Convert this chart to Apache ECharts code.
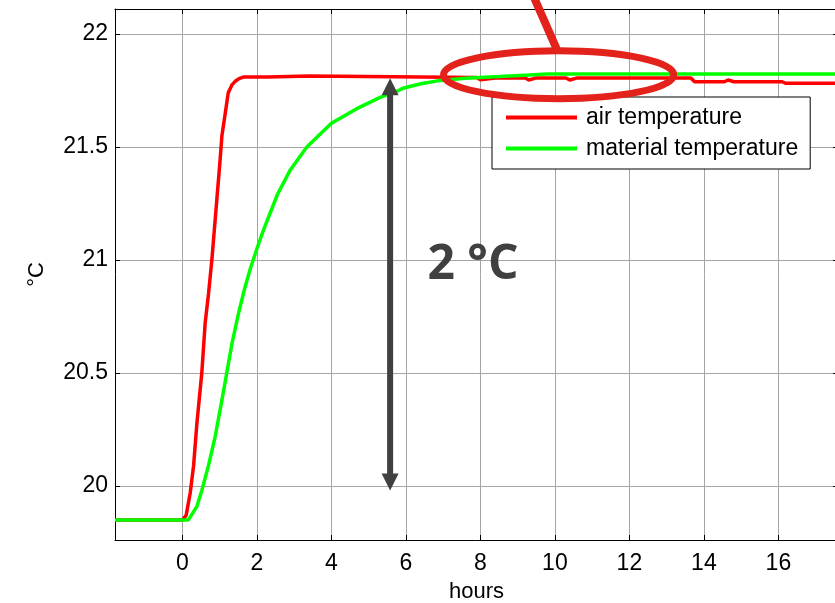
<!DOCTYPE html>
<html>
<head>
<meta charset="utf-8">
<script src="https://cdn.jsdelivr.net/npm/echarts@6.0.0/dist/echarts.min.js"></script>
<style>
  html, body { margin: 0; padding: 0; background: #fff; }
  #chart { width: 835px; height: 603px; }
</style>
</head>
<body>
<div id="chart"></div>
<script>
// Air temperature step response (hours, °C)
const airHours = [-1.81, 0, 0.10, 0.21, 0.30, 0.39, 0.52, 0.61, 0.70, 0.79, 0.88, 0.94, 1.01, 1.06, 1.15, 1.23, 1.33, 1.41, 1.52, 1.63,
  2.3, 2.35, 3.4, 3.45, 7.9, 8.0, 8.4, 9.2, 9.3, 9.5, 10.3, 10.4, 10.6, 13.65, 13.75, 14.55, 14.65, 14.8, 16.1, 16.2, 17.6];
const airTemp = [19.85, 19.85, 19.87, 19.97, 20.09, 20.28, 20.50, 20.72, 20.85, 21.00, 21.18, 21.30, 21.44, 21.55, 21.65, 21.74, 21.775, 21.79, 21.803, 21.81,
  21.81, 21.815, 21.815, 21.808, 21.808, 21.798, 21.806, 21.806, 21.797, 21.806, 21.806, 21.797, 21.806, 21.806, 21.789, 21.789, 21.797, 21.789, 21.789, 21.782, 21.782];

// Material temperature response (hours, °C)
const matHours = [-1.81, 0.16, 0.39, 0.52, 0.70, 0.88, 1.06, 1.19, 1.33, 1.50, 1.68, 1.82, 2.0, 2.17, 2.55, 2.9, 3.34, 4.0, 4.68,
  5.31, 5.80, 5.92, 6.4, 6.85, 7.6, 8.5, 9.2, 9.8, 17.6];
const matTemp = [19.85, 19.85, 19.91, 19.98, 20.09, 20.22, 20.38, 20.50, 20.63, 20.76, 20.88, 20.96, 21.05, 21.13, 21.29, 21.40, 21.50, 21.605, 21.67,
  21.72, 21.75, 21.76, 21.78, 21.793, 21.805, 21.812, 21.818, 21.823, 21.823];

const xTicks = [0, 2, 4, 6, 8, 10, 12, 14, 16];
const yTicks = [20, 20.5, 21, 21.5, 22];
const seriesNames = ['air temperature', 'material temperature'];

const X_MIN = -1.81, X_MAX = 17.6, Y_MIN = 19.761, Y_MAX = 22.111;
const FONT = "'Liberation Sans', Arial, sans-serif";
const GRID_COLOR = '#a4a4a4';
const MARK_COLOR = '#e3231b';
const NOTE_COLOR = '#404040';

const chart = echarts.init(document.getElementById('chart'), null, { renderer: 'canvas' });

function mainX(extra) {
  return Object.assign({
    type: 'value', min: X_MIN, max: X_MAX,
    axisLine: { show: true, onZero: false, lineStyle: { color: '#000', width: 1 } },
    axisTick: { show: true, inside: true, length: 5, customValues: xTicks, lineStyle: { color: '#000' } },
    splitLine: { show: false }
  }, extra);
}
function mainY(extra) {
  return Object.assign({
    type: 'value', min: Y_MIN, max: Y_MAX,
    axisLine: { show: true, onZero: false, lineStyle: { color: '#000', width: 1 } },
    axisTick: { show: true, inside: true, length: 5, customValues: yTicks, lineStyle: { color: '#000' } },
    splitLine: { show: false }
  }, extra);
}

chart.setOption({
  animation: false,
  backgroundColor: '#fff',
  grid: { left: 115, top: 9, width: 723, height: 531, containLabel: false, outerBoundsMode: 'none' },
  xAxis: [
    mainX({
      position: 'bottom',
      axisLabel: { show: true, customValues: xTicks, color: '#000', fontSize: 23, fontFamily: FONT, margin: 12 },
      splitLine: { show: true, lineStyle: { color: GRID_COLOR, width: 1 } },
      name: 'hours', nameLocation: 'middle', nameGap: 41,
      nameTextStyle: { color: '#000', fontSize: 22, fontFamily: FONT }
    }),
    mainX({ position: 'top', axisLabel: { show: false } })
  ],
  yAxis: [
    mainY({
      position: 'left',
      axisLabel: { show: true, customValues: yTicks, color: '#000', fontSize: 23, fontFamily: FONT, margin: 7 },
      splitLine: { show: true, lineStyle: { color: GRID_COLOR, width: 1 } },
      name: '°C', nameLocation: 'middle', nameGap: 67, nameRotate: 90,
      nameTextStyle: { color: '#000', fontSize: 22, fontFamily: FONT }
    }),
    mainY({ position: 'right', axisLabel: { show: false } })
  ],
  legend: {
    data: seriesNames,
    orient: 'vertical',
    left: 492, top: 97,
    backgroundColor: '#fff',
    borderColor: '#000', borderWidth: 1, borderRadius: 0,
    padding: [9, 12, 9, 14],
    itemGap: 8,
    itemWidth: 71, itemHeight: 4,
    icon: 'rect',
    selectedMode: false,
    textStyle: { color: '#000', fontSize: 23, fontFamily: FONT, lineHeight: 22, padding: [0, 0, 0, 4] }
  },
  series: [
    {
      name: seriesNames[0], type: 'line', xAxisIndex: 0, yAxisIndex: 0,
      data: airHours.map((h, i) => [h, airTemp[i]]),
      symbol: 'none', showSymbol: false,
      lineStyle: { color: '#ff0000', width: 3.5 },
      itemStyle: { color: '#ff0000' },
      z: 2
    },
    {
      name: seriesNames[1], type: 'line', xAxisIndex: 0, yAxisIndex: 0,
      data: matHours.map((h, i) => [h, matTemp[i]]),
      symbol: 'none', showSymbol: false,
      lineStyle: { color: '#00ff00', width: 3.5 },
      itemStyle: { color: '#00ff00' },
      z: 3
    }
  ]
});

// Annotations placed in data space and converted through the chart's axes
const toPx = (h, v) => chart.convertToPixel({ xAxisIndex: 0, yAxisIndex: 0 }, [h, v]);

const arrowAt = 5.576, arrowLow = 19.98, arrowHigh = 21.805;
const [ax, aTop] = toPx(arrowAt, arrowHigh);
const aBot = toPx(arrowAt, arrowLow)[1];
const hw = 8.5, hh = 17, sw = 3;
const arrowPts = [
  [ax, aTop], [ax + hw, aTop + hh], [ax + sw, aTop + hh], [ax + sw, aBot - hh], [ax + hw, aBot - hh],
  [ax, aBot], [ax - hw, aBot - hh], [ax - sw, aBot - hh], [ax - sw, aTop + hh], [ax - hw, aTop + hh]
];

const ringC = toPx(10.1, 21.82);
const ringR = toPx(10.1 + 3.09, 21.82 + 0.106);
const tailA = toPx(9.41, 22.173);
const tailB = toPx(10.06, 21.929);
const labelC = toPx(7.8, 20.975);

chart.setOption({
  graphic: [
    { type: 'polygon', z: 100, shape: { points: arrowPts }, style: { fill: NOTE_COLOR } },
    {
      type: 'text', z: 100, x: labelC[0], y: labelC[1],
      style: { text: '2 °C', fill: NOTE_COLOR, font: "bold 48px 'Open Sans', sans-serif", align: 'center', verticalAlign: 'middle' }
    },
    {
      type: 'line', z: 101,
      shape: { x1: tailA[0], y1: tailA[1], x2: tailB[0], y2: tailB[1] },
      style: { stroke: MARK_COLOR, lineWidth: 8 }
    },
    {
      type: 'ellipse', z: 101,
      shape: { cx: ringC[0], cy: ringC[1], rx: ringR[0] - ringC[0], ry: ringC[1] - ringR[1] },
      style: { fill: null, stroke: MARK_COLOR, lineWidth: 7 }
    }
  ]
});
</script>
</body>
</html>
